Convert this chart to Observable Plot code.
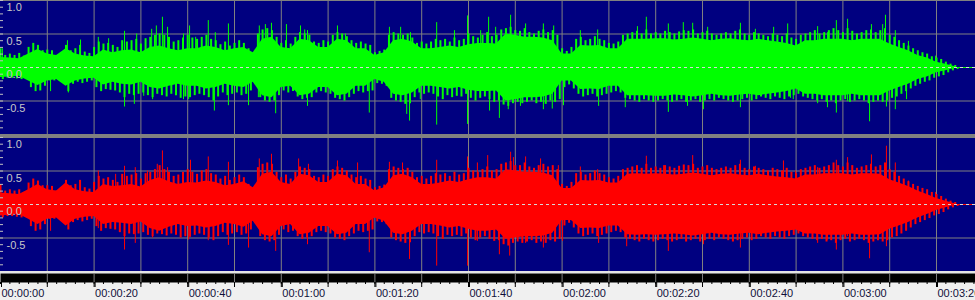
<!DOCTYPE html>
<html><head><meta charset="utf-8">
<script src="https://cdn.jsdelivr.net/npm/d3@7"></script>
<script src="https://cdn.jsdelivr.net/npm/@observablehq/plot@0.6"></script>
<style>
body{margin:0;background:#f0f0f0;}
#wrap{position:relative;width:975px;height:300px;overflow:hidden;background:#f0f0f0;}
.layer{position:absolute;left:0;}
.layer svg{display:block;}
</style>
</head><body><div id="wrap"></div>
<script>
// envelope of the dense body, one value every 2 seconds (t = 0 … 204 s)
const STEP = 2;
const greenCore = [0.15,0.14,0.13,0.2,0.27,0.2,0.18,0.28,0.2,0.17,0.16,0.26,0.22,0.25,0.26,0.22,0.3,0.32,0.28,0.25,0.28,0.28,
 0.32,0.3,0.25,0.28,0.3,0.22,0.42,0.45,0.3,0.28,0.42,0.4,0.3,0.3,0.42,0.4,0.28,0.28,0.18,0.22,0.4,0.42,0.38,0.28,0.28,0.3,0.32,0.3,0.34,0.36,0.36,0.35,
 0.5,0.48,0.45,0.45,0.44,0.4,0.2,0.2,0.33,0.32,0.33,0.28,0.28,0.42,0.42,0.42,
 0.43,0.43,0.41,0.42,0.44,0.42,0.4,0.42,0.43,0.41,0.4,0.42,0.4,0.38,0.36,0.32,
 0.4,0.4,0.42,0.42,0.42,0.4,0.42,0.42,0.42,0.35,0.3,0.25,0.18,0.14,0.08,0.05,0.01];
const redCore = [0.17,0.16,0.15,0.22,0.3,0.22,0.2,0.32,0.22,0.19,0.18,0.3,0.27,0.28,0.3,0.26,0.36,0.4,0.34,0.3,0.33,0.32,
 0.35,0.33,0.28,0.3,0.34,0.25,0.45,0.48,0.33,0.3,0.45,0.43,0.33,0.33,0.45,0.43,0.3,0.3,0.2,0.25,0.43,0.45,0.4,0.3,0.3,0.32,0.35,0.33,0.37,0.4,0.4,0.38,
 0.52,0.5,0.48,0.48,0.47,0.43,0.24,0.24,0.36,0.35,0.36,0.32,0.32,0.45,0.46,0.45,
 0.46,0.45,0.44,0.45,0.47,0.45,0.43,0.45,0.46,0.44,0.43,0.45,0.43,0.41,0.4,0.38,
 0.44,0.44,0.46,0.46,0.46,0.44,0.46,0.46,0.45,0.37,0.32,0.27,0.2,0.15,0.09,0.05,0.01];

// fringe height, one value per second (amplitude × 100), t = 0 … 204 s
const greenHairUp = [28,18,20,18,21,17,30,36,33,25,26,25,18,21,33,25,28,33,23,21,30,38,35,36,33,30,40,38,40,42,35,43,45,48,50,48,45,38,40,44,48,44,42,
 45,48,42,40,34,38,32,36,40,36,28,20,50,56,58,55,45,36,40,35,45,52,50,48,38,36,40,38,48,52,50,46,40,36,38,35,33,22,24,26,48,52,50,48,50,44,36,38,35,38,42,40,42,38,44,40,42,50,46,44,48,52,46,48,
 56,58,60,55,54,58,52,50,54,56,52,55,48,28,24,30,42,45,40,42,46,42,40,36,35,38,48,50,52,54,50,56,50,52,50,54,52,50,53,55,54,56,50,52,54,50,48,50,52,50,54,56,50,48,52,50,48,46,50,48,46,50,44,42,
 48,50,52,55,50,52,55,58,55,52,58,54,50,52,55,56,52,55,58,48,45,40,36,32,28,25,22,20,16,14,12,8,5,3];
const greenHairDown = [18,16,16,17,18,16,30,36,35,28,20,20,19,22,36,25,22,24,22,20,30,36,33,34,35,38,45,40,42,40,38,42,45,40,42,44,40,42,46,44,45,42,40,
 42,45,50,44,38,42,40,38,42,40,35,22,45,50,52,50,42,35,38,36,44,48,46,45,38,36,38,40,46,48,50,45,40,36,38,36,35,24,25,28,46,50,52,55,54,45,38,40,38,40,44,48,42,45,43,44,40,46,50,46,44,48,52,50,
 56,58,54,52,54,52,50,54,52,55,50,52,48,30,26,32,40,44,42,40,44,42,40,38,36,38,46,48,50,52,48,50,52,50,48,50,52,50,48,52,50,48,52,50,48,50,46,48,50,52,50,48,46,50,48,44,46,48,44,46,48,44,42,40,
 44,46,48,50,48,52,50,54,50,48,52,50,48,50,54,52,50,52,50,46,44,40,36,32,28,25,22,20,16,14,12,8,5,3];
const redHairUp = [30,20,22,20,22,18,32,38,35,28,28,27,20,23,36,28,30,36,25,23,33,42,38,40,36,33,45,42,44,46,38,46,48,52,58,52,48,42,44,48,52,48,45,
 50,52,46,44,38,42,36,40,44,40,30,22,55,60,62,60,48,40,44,38,48,56,54,52,42,40,44,42,52,56,54,50,44,40,42,38,36,25,27,29,52,56,54,52,54,48,40,42,38,42,46,44,46,42,48,44,46,54,50,48,52,56,50,52,
 60,62,64,58,58,62,56,54,58,60,56,58,52,30,27,33,46,48,44,46,50,46,44,40,38,42,52,54,56,58,54,60,54,56,54,58,56,54,57,59,58,60,54,56,58,54,52,54,56,54,58,60,54,52,56,54,52,50,54,52,50,54,48,46,
 52,54,56,58,54,56,58,62,58,56,62,58,54,56,58,60,56,58,62,52,48,42,38,34,30,27,24,22,18,15,12,8,5,3];
const redHairDown = [20,18,18,19,20,18,33,40,38,30,22,22,21,24,38,27,24,26,24,22,33,40,36,37,38,42,48,44,45,44,42,46,48,44,45,47,44,46,50,48,49,46,44,
 46,50,54,48,42,46,44,42,46,44,38,25,48,54,56,54,46,38,42,40,48,52,50,48,42,40,42,44,50,52,54,48,44,40,42,40,38,26,27,30,50,54,56,58,57,48,42,44,42,44,48,52,46,48,46,48,44,50,54,50,48,52,55,54,
 60,62,58,56,58,56,54,58,56,58,54,56,52,32,28,35,44,48,46,44,48,46,44,42,40,42,50,52,54,56,52,54,56,54,52,54,56,54,52,56,54,52,56,54,52,54,50,52,54,56,54,52,50,54,52,48,50,52,48,50,52,48,46,44,
 48,50,52,54,52,56,54,58,54,52,56,54,52,54,58,56,54,56,54,50,48,44,40,35,30,27,24,21,17,15,12,8,5,3];

// isolated peaks [seconds, amplitude]
const greenUp = [[0.4,0.28],[14.3,0.40],[17.1,0.41],[20.9,0.45],[23.1,0.43],[26.5,0.54],[29.1,0.50],[32.3,0.57],[33.3,0.62],[34.6,0.75],[35.7,0.60],[39.1,0.50],[40.4,0.62],[41.7,0.45],
 [44.4,0.70],[45.9,0.52],[48.7,0.65],[55.3,0.62],[56.6,0.64],[57.9,0.66],[61.1,0.64],[64.1,0.62],[65.0,0.56],[65.6,0.55],[72.0,0.62],[73.7,0.50],[83.1,0.60],[85.5,0.60],[87.6,0.52],[93.2,0.67],[97.0,0.55],[99.8,0.77],[102.6,0.55],[104.3,0.75],[105.8,0.60],
 [109.0,0.78],[112.2,0.65],[116.0,0.65],[118.2,0.62],[123.9,0.55],[127.6,0.56],[136.1,0.61],[138.0,0.75],[142.7,0.65],[145.9,0.67],[147.9,0.66],[151.1,0.60],[158.1,0.66],[161.3,0.57],[165.2,0.60],[168.2,0.65],
 [174.6,0.61],[176.7,0.52],[178.6,0.70],[181.0,0.72],[186.1,0.64],[188.5,0.64],[189.1,0.78],[191.2,0.55],[194.0,0.39],[199.8,0.17]];
const greenDown = [[10.7,-0.36],[14.5,-0.38],[26.5,-0.59],[28.6,-0.55],[30.6,-0.43],[32.5,-0.48],[39.1,-0.48],[40.2,-0.48],[45.7,-0.65],[48.7,-0.57],[53.0,-0.57],[55.1,-0.45],[58.8,-0.69],[65.6,-0.58],
 [78.8,-0.68],[86.8,-0.70],[87.4,-0.80],[89.7,-0.48],[93.2,-0.86],[99.8,-0.85],[104.5,-0.65],[106.6,-0.76],[108.5,-0.63],[111.1,-0.58],[116.0,-0.63],[117.9,-0.62],[120.3,-0.57],[127.8,-0.58],[133.5,-0.60],
 [142.7,-0.67],[146.8,-0.58],[150.2,-0.63],[158.1,-0.60],[168.8,-0.46],[169.4,-0.48],[174.6,-0.54],[176.7,-0.60],[178.6,-0.68],[181.0,-0.51],[185.7,-0.81],[189.3,-0.59],[191.2,-0.63],[193.6,-0.48]];
const redUp = [[20.9,0.50],[24.6,0.45],[26.5,0.57],[28.8,0.55],[31.4,0.50],[33.5,0.60],[34.6,0.80],[35.7,0.55],[39.1,0.47],[40.6,0.66],[44.4,0.71],[48.7,0.63],[55.3,0.68],[57.9,0.75],[63.7,0.68],[65.8,0.60],
 [72.0,0.65],[76.3,0.62],[83.1,0.63],[85.9,0.62],[93.2,0.66],[99.8,0.71],[101.9,0.62],[104.1,0.73],[106.0,0.45],[109.0,0.78],[109.6,0.70],[112.2,0.71],[115.4,0.68],[119.2,0.58],[123.9,0.56],[127.6,0.52],
 [138.0,0.72],[141.7,0.58],[147.9,0.73],[158.1,0.66],[161.3,0.57],[167.3,0.65],[169.9,0.50],[174.6,0.55],[178.6,0.66],[181.0,0.70],[186.1,0.74],[189.3,0.87],[191.2,0.62],[194.0,0.35],[199.8,0.18]];
const redDown = [[10.7,-0.40],[20.9,-0.36],[26.5,-0.68],[28.8,-0.58],[32.5,-0.50],[39.5,-0.48],[40.2,-0.53],[44.4,-0.54],[48.7,-0.61],[53.0,-0.65],[58.8,-0.70],[65.6,-0.60],[78.8,-0.72],[87.4,-0.82],
 [93.2,-0.92],[99.8,-0.92],[101.9,-0.55],[106.6,-0.75],[108.8,-0.77],[112.2,-0.58],[116.0,-0.65],[120.1,-0.55],[127.8,-0.58],[133.8,-0.63],[142.7,-0.70],[150.2,-0.60],[158.1,-0.65],
 [174.6,-0.58],[176.7,-0.53],[178.6,-0.68],[181.0,-0.48],[185.7,-0.81],[189.3,-0.63],[193.6,-0.38]];

const gridTimes = d3.range(10, 201, 10);      // vertical grid, every 10 s
const gridLevels = [1, 0.5, -0.5];            // horizontal grid
const levelLabels = [1.0, 0.5, 0.0, -0.5];    // amplitude labels
const levelTicks = d3.range(-10, 11).map(d => d / 10);
const minorTimes = d3.range(0, 209, 2);
const labelTimes = d3.range(0, 201, 20);

const W = 975;
const X_DOMAIN = [0, W / 4.68];
const NAVY = "#000080", GRID = "#808080";

function fmt(s) {
  const m = Math.floor(s / 60), r = s % 60;
  return "00:" + String(m).padStart(2, "0") + ":" + String(r).padStart(2, "0");
}

function panel(core, hairUp, hairDown, up, down, color, height) {
  return Plot.plot({
    width: W, height, margin: 0,
    x: {domain: X_DOMAIN, axis: null},
    y: {domain: [-1, 1], axis: null},
    style: {background: NAVY, fontFamily: "Liberation Sans, Arial, sans-serif"},
    marks: [
      Plot.ruleX(gridTimes, {x: d => d, stroke: GRID}),
      Plot.ruleY(gridLevels, {y: d => d, stroke: GRID}),
      Plot.ruleY([0], {y: d => d, stroke: color}),
      Plot.areaY(core, {x: (d, i) => i * STEP, y1: d => -d, y2: d => d, fill: color}),
      Plot.ruleX(hairUp, {x: (d, i) => i, y1: 0, y2: d => d / 100, stroke: color, strokeWidth: 2}),
      Plot.ruleX(hairDown, {x: (d, i) => i + 0.5, y1: 0, y2: d => -d / 100, stroke: color, strokeWidth: 2}),
      Plot.ruleX(up, {x: d => d[0], y1: 0, y2: d => d[1], stroke: color}),
      Plot.ruleX(down, {x: d => d[0], y1: 0, y2: d => d[1], stroke: color}),
      Plot.ruleY([0], {y: d => d, stroke: "#d8d8d8", strokeDasharray: "3,3"}),
      Plot.tickY(levelTicks, {y: d => d, stroke: "#c0c0c0", insetRight: W - 3}),
      Plot.text(levelLabels, {y: d => d, text: d => d.toFixed(1), frameAnchor: "left", textAnchor: "start", lineAnchor: "top", dx: 6, dy: 3, fill: "#c8c8c8", fontSize: 11})
    ]
  });
}

function axis() {
  return Plot.plot({
    width: W, height: 27, marginTop: 0, marginBottom: 18, marginLeft: 0, marginRight: 0,
    x: {domain: X_DOMAIN},
    style: {background: "transparent", overflow: "visible", fontFamily: "Liberation Sans, Arial, sans-serif", fontSize: "11px"},
    marks: [
      Plot.frame({fill: "black", stroke: null}),
      Plot.ruleX(gridTimes, {x: d => d, stroke: GRID}),
      Plot.axisX({ticks: minorTimes, tickSize: 2, tickFormat: () => "", stroke: "black"}),
      Plot.axisX({ticks: gridTimes, tickSize: 5, tickFormat: () => "", stroke: "black"}),
      Plot.axisX({ticks: labelTimes, tickSize: 5, tickPadding: 2, tickFormat: fmt, textAnchor: "start", dx: 1, stroke: "black", fill: "#10103a", fontSize: 11})
    ]
  });
}

function place(node, top) {
  const d = document.createElement("div");
  d.className = "layer"; d.style.top = top + "px";
  d.appendChild(node);
  document.getElementById("wrap").appendChild(d);
}
function bar(top, h, color) {
  const d = document.createElement("div");
  d.className = "layer"; d.style.top = top + "px";
  d.style.width = W + "px"; d.style.height = h + "px"; d.style.background = color;
  document.getElementById("wrap").appendChild(d);
}

place(panel(greenCore, greenHairUp, greenHairDown, greenUp, greenDown, "#00ff00", 134), 0);
bar(134, 3, GRID);
place(panel(redCore, redHairUp, redHairDown, redUp, redDown, "#ff0000", 134), 137);
bar(271, 2, "#e4e4e4");
place(axis(), 273);
</script>
</body></html>
